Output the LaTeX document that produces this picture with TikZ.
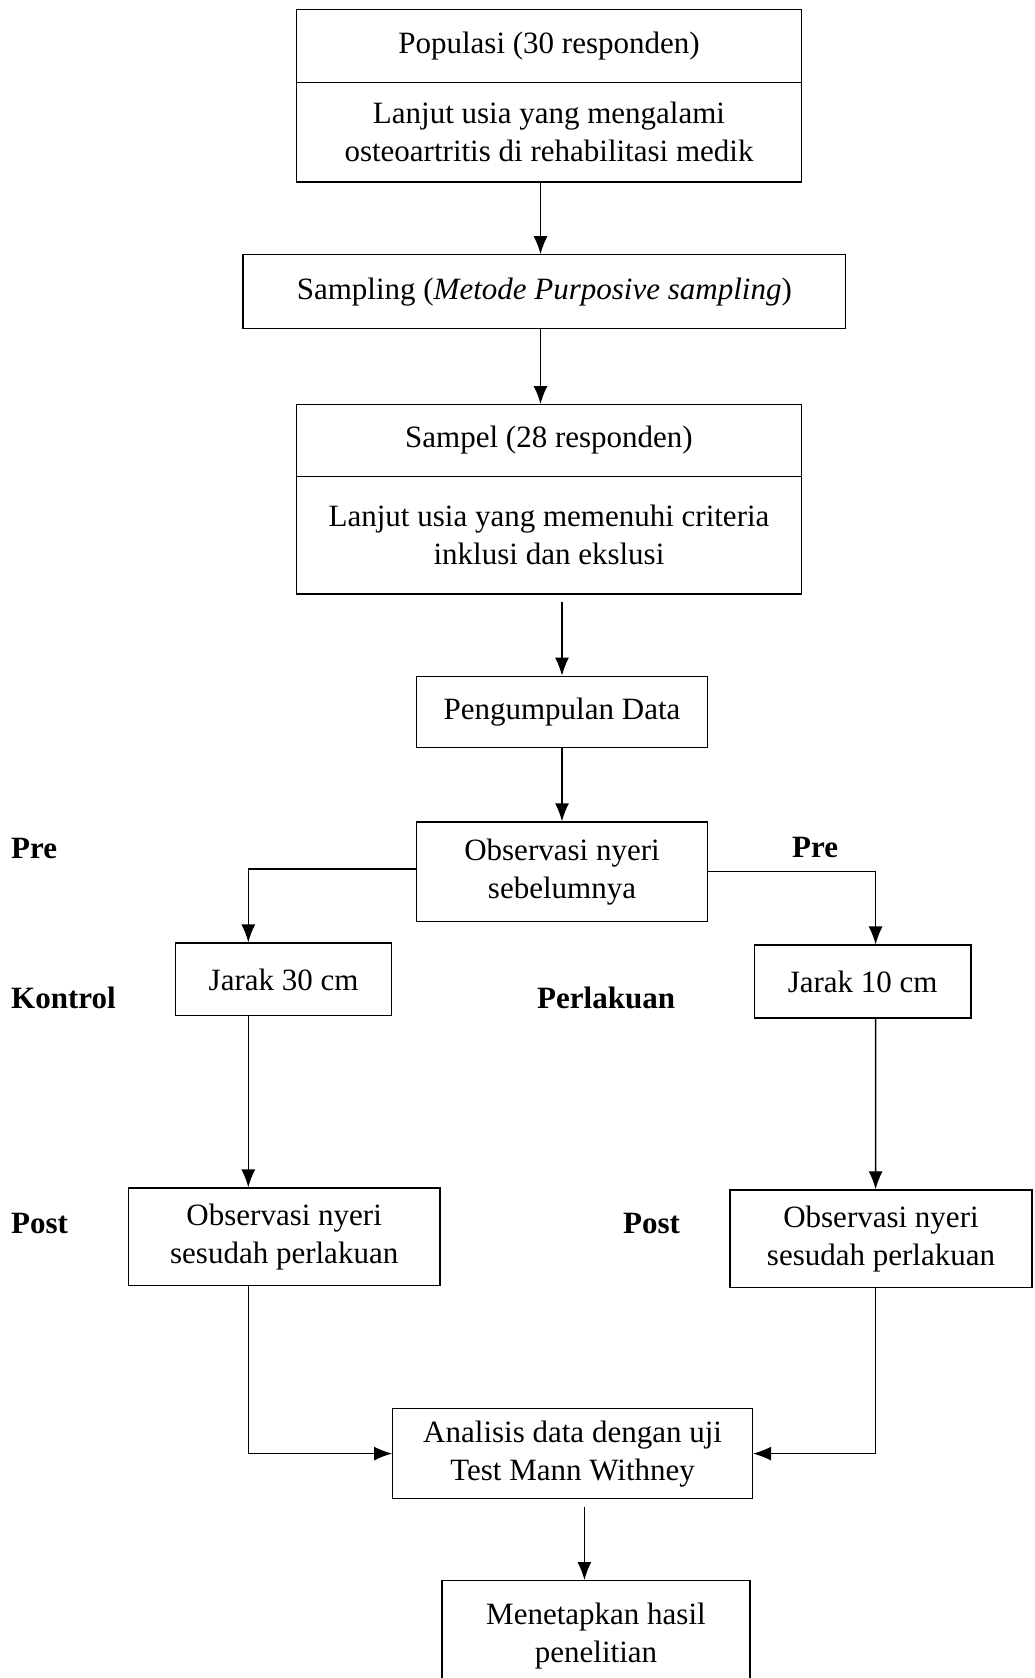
\documentclass[tikz,border=0pt]{standalone}
\usepackage{fontspec}
\setmainfont{Liberation Serif}
\usetikzlibrary{arrows.meta,positioning,calc}

\begin{document}
\begin{tikzpicture}[
    x=1pt, y=-1pt,
    box/.style={rectangle, draw, line width=1.3pt, inner sep=0pt, align=center, font=\fontsize{31}{38}\selectfont},
    lbl/.style={anchor=west, inner sep=0pt, font=\fontsize{31}{38}\selectfont\bfseries},
    arrow/.style={-{Latex[length=18pt,width=14pt]}, line width=1.3pt},
    link/.style={line width=1.3pt}
]
    \useasboundingbox (0,0) rectangle (1034,1678);

    % top part: population and sampling
    \node[box, minimum width=505pt, minimum height=73pt] (pop) at (549,46) {Populasi (30 responden)};
    \node[box, minimum width=505pt, minimum height=99.6pt] (popdesc) at (549,132.2) {Lanjut usia yang mengalami\\osteoartritis di rehabilitasi medik};
    \node[box, minimum width=602.6pt, minimum height=73.8pt] (samp) at (544.3,291.7) {Sampling (\textit{Metode Purposive sampling})};
    \node[box, minimum width=505pt, minimum height=71.7pt] (sampel) at (549,440.5) {Sampel (28 responden)};
    \node[box, minimum width=505pt, minimum height=117.7pt] (sampeldesc) at (549,535) {Lanjut usia yang memenuhi criteria\\inklusi dan ekslusi};
    \node[box, minimum width=291pt, minimum height=71.5pt] (kumpul) at (562,712) {Pengumpulan Data};
    \node[box, minimum width=291pt, minimum height=99.6pt] (obspre) at (562,871.8) {Observasi nyeri\\sebelumnya};

    % two groups
    \node[box, minimum width=216.3pt, minimum height=72.8pt] (jarak30) at (283.6,979.4) {Jarak 30 cm};
    \node[box, minimum width=216.3pt, minimum height=72.8pt] (jarak10) at (862.7,981.5) {Jarak 10 cm};
    \node[box, minimum width=311.6pt, minimum height=97.6pt] (postL) at (284.2,1236.8) {Observasi nyeri\\sesudah perlakuan};
    \node[box, minimum width=302pt, minimum height=97.7pt] (postR) at (881,1238.8) {Observasi nyeri\\sesudah perlakuan};

    % analysis and result
    \node[box, minimum width=359.7pt, minimum height=90pt] (analisis) at (572.6,1453.6) {Analisis data dengan uji\\Test Mann Withney};
    \node[box, minimum width=308pt, minimum height=110pt, anchor=north] (hasil) at (596,1580) {Menetapkan hasil\\penelitian};

    % side labels
    \node[lbl] (preL) at (11,848) {Pre};
    \node[lbl] (preR) at (792,847) {Pre};
    \node[lbl] (kontrol) at (11,997.6) {Kontrol};
    \node[lbl] (perlakuan) at (537,997.6) {Perlakuan};
    \node[lbl] (postLbl) at (11,1223.5) {Post};
    \node[lbl] (postRbl) at (623,1223.5) {Post};

    % connectors
    \draw[arrow] ([xshift=-8.5pt]popdesc.south) -- ([xshift=-8.5pt]popdesc.south |- samp.north);
    \draw[arrow] ([xshift=-8.5pt]sampel.north |- samp.south) -- ([xshift=-8.5pt]sampel.north);
    \draw[arrow] ($(sampeldesc.south -| kumpul.north)+(0,7.6)$) -- (kumpul.north);
    \draw[arrow] (kumpul.south) -- (obspre.north);
    \draw[arrow] ([yshift=2.8pt]obspre.west) -| ([xshift=-35.3pt]jarak30.north);
    \draw[arrow] (obspre.east) -| ([xshift=12.9pt]jarak10.north);
    \draw[arrow] ([xshift=-35.3pt]jarak30.south) -- ([xshift=-35.9pt]postL.north);
    \draw[arrow] ([xshift=12.9pt]jarak10.south) -- ([xshift=-5.4pt]postR.north);
    \draw[arrow] ([xshift=-35.9pt]postL.south) |- (analisis.west);
    \draw[arrow] ([xshift=-5.4pt]postR.south) |- (analisis.east);
    \draw[arrow] ($(analisis.south -| hasil.north)+(-11.6,7.4)$) -- ([xshift=-11.6pt]hasil.north);
\end{tikzpicture}
\end{document}
